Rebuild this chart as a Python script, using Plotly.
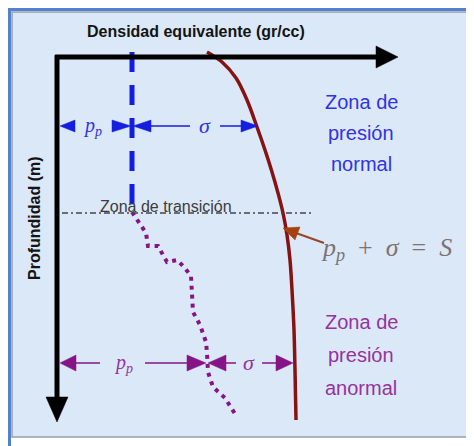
import plotly.graph_objects as go

W, H = 474, 446
PAGE_OFFSET = 8  # default body margin of the html page

# ---- data (diagram units: x = equivalent density, y = depth) ----
s_density = [207, 222, 236, 247, 257, 265, 272, 278, 283, 287, 290, 292, 294, 295, 296]
s_depth = [52, 62, 78, 100, 127, 150, 172, 193, 213, 235, 260, 290, 330, 370, 420]

pp_normal_density = [132, 132]
pp_normal_depth = [52, 213]

pp_abn_density = [132, 140, 146, 148, 158, 163, 167, 177, 184, 191, 192, 193,
                  200, 206, 207, 208, 213, 225, 237]
pp_abn_depth = [212, 224, 233, 246, 246, 255, 262, 260, 267, 276, 290, 312,
                325, 342, 353, 372, 387, 398, 417]

transition_depth = 213
axis_origin = (57, 57)
axis_x_end = 398
axis_y_end = 422

normal_row_depth = 126
abn_row_depth = 363

BLUE = "rgb(20,30,225)"
BLUE_TXT = "rgb(50,50,230)"
PURPLE = "rgb(135,20,135)"
PURPLE_TXT = "rgb(150,50,160)"
BROWN = "rgb(135,18,18)"
PANEL = "#dbe8f8"

fig = go.Figure()

fig.add_trace(go.Scatter(x=s_density, y=s_depth, mode="lines",
                         line=dict(color=BROWN, width=3.5, shape="spline"),
                         hoverinfo="skip"))
fig.add_trace(go.Scatter(x=pp_normal_density, y=pp_normal_depth, mode="lines",
                         line=dict(color=BLUE, width=5, dash="20px,13px"),
                         hoverinfo="skip"))
fig.add_trace(go.Scatter(x=pp_abn_density, y=pp_abn_depth, mode="lines",
                         line=dict(color=PURPLE, width=4, dash="4px,5px"),
                         hoverinfo="skip"))

shapes = []
for x0, y0, x1, y1 in [(9.5, 8, 9.5, 446), (8, 9.5, 473, 9.5), (472.5, 8, 472.5, 446)]:
    shapes.append(dict(type="line", x0=x0, y0=y0, x1=x1, y1=y1,
                       line=dict(color="rgb(80,130,205)", width=3), layer="below"))
shapes.append(dict(type="rect", x0=12, y0=12, x1=470, y1=437,
                   fillcolor=PANEL, line=dict(color="rgb(150,160,175)", width=1.5),
                   layer="below"))


def tri(tip_x, y, base_x, half, color):
    return dict(type="path",
                path=f"M {tip_x},{y} L {base_x},{y-half} L {base_x},{y+half} Z",
                fillcolor=color, line=dict(color=color, width=0.5), layer="above")


def hline(x0, x1, y, color, width=1.5, dash="solid"):
    return dict(type="line", x0=x0, x1=x1, y0=y, y1=y,
                line=dict(color=color, width=width, dash=dash))


ox, oy = axis_origin
shapes.append(hline(ox - 2, axis_x_end - 20, oy, "black", 5))
shapes.append(dict(type="path",
                   path=f"M {axis_x_end},{oy} L {axis_x_end-22},{oy-11} L {axis_x_end-22},{oy+11} Z",
                   fillcolor="black", line=dict(color="black", width=0.5)))
shapes.append(dict(type="line", x0=ox, x1=ox, y0=oy - 2, y1=axis_y_end - 22,
                   line=dict(color="black", width=5)))
shapes.append(dict(type="path",
                   path=f"M {ox},{axis_y_end} L {ox-11},{axis_y_end-25} L {ox+11},{axis_y_end-25} Z",
                   fillcolor="black", line=dict(color="black", width=0.5)))

shapes.append(hline(62, 312, transition_depth, "rgb(70,70,70)", 1.5, "6px,3px,2px,3px"))

y = normal_row_depth
shapes += [tri(60, y, 75, 6, BLUE), tri(131, y, 112, 6, BLUE), tri(133, y, 151, 6, BLUE),
           hline(151, 190, y, BLUE, 1.5), hline(220, 242, y, BLUE, 1.5),
           tri(258, y, 241, 6, BLUE)]
y = abn_row_depth
shapes += [tri(60, y, 76, 8, PURPLE), hline(76, 100, y, PURPLE, 1.5),
           hline(145, 188, y, PURPLE, 1.5), tri(206, y, 187, 8, PURPLE),
           tri(208, y, 226, 8, PURPLE), hline(226, 236, y, PURPLE, 1.5),
           hline(262, 277, y, PURPLE, 1.5), tri(293, y, 276, 8, PURPLE)]
shapes.append(dict(type="line", x0=296, y0=233, x1=324, y1=243,
                   line=dict(color="rgb(150,70,40)", width=2)))
shapes.append(dict(type="path", path="M 283,228 L 300,227 L 295,240 Z",
                   fillcolor="rgb(165,65,15)", line=dict(color="rgb(165,65,15)", width=0.5)))

SANS = "Liberation Sans, Arial, sans-serif"
SERIF = "Liberation Serif, Times New Roman, serif"

ann = []


def txt(x, y, t, size, color, family=SANS, xanchor="center", angle=0):
    ann.append(dict(x=x, y=y, text=t, showarrow=False, xanchor=xanchor, yanchor="middle",
                    textangle=angle, font=dict(size=size, color=color, family=family)))


txt(196, 31, "<b>Densidad equivalente (gr/cc)</b>", 16, "rgb(20,20,20)")
txt(34, 218, "<b>Profundidad (m)</b>", 16, "rgb(20,20,20)", angle=-90)
txt(166, 206, "Zona de transición", 16, "rgb(60,60,60)")
for yy, t in zip([102, 133, 164], ["Zona de", "presión", "normal"]):
    txt(361, yy, t, 20, BLUE_TXT)
for yy, t in zip([322, 355, 388], ["Zona de", "presión", "anormal"]):
    txt(361, yy, t, 20, PURPLE_TXT)
txt(92, 126, "<i>p<sub>p</sub></i>", 20, BLUE_TXT, SERIF)
txt(205, 125, "<i>σ</i>", 22, BLUE_TXT, SERIF)
txt(123, 363, "<i>p<sub>p</sub></i>", 20, PURPLE_TXT, SERIF)
txt(249, 362, "<i>σ</i>", 22, PURPLE_TXT, SERIF)
txt(386, 249, "<i>p<sub>p</sub></i>  +  <i>σ</i>  =  <i>S</i>", 26, "rgb(125,115,115)", SERIF)

fig.update_layout(
    width=W - PAGE_OFFSET, height=H - PAGE_OFFSET, autosize=False,
    margin=dict(l=0, r=0, t=0, b=0, pad=0),
    paper_bgcolor="white", plot_bgcolor="white",
    showlegend=False,
    xaxis=dict(range=[PAGE_OFFSET, W], visible=False, fixedrange=True),
    yaxis=dict(range=[H, PAGE_OFFSET], visible=False, fixedrange=True),
    shapes=shapes, annotations=ann,
)

fig.write_html("out.html")
